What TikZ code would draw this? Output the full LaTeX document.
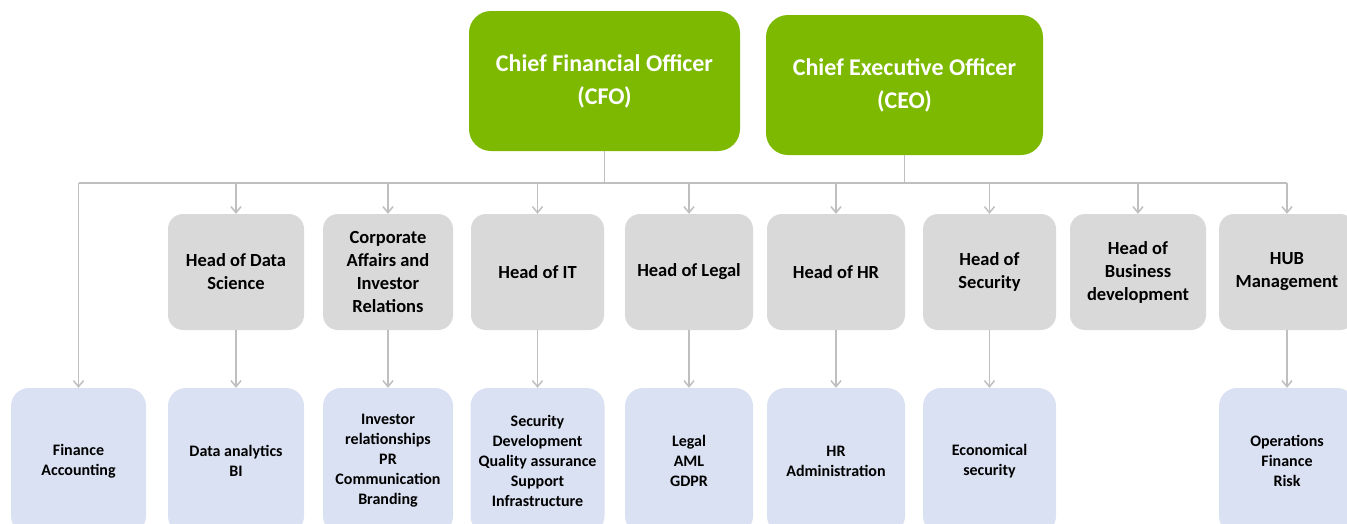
\documentclass[tikz,border=0pt]{standalone}
\usepackage{fontspec}
\setmainfont{Carlito}
\usetikzlibrary{arrows.meta}

\definecolor{chiefgreen}{RGB}{124,185,0}
\definecolor{headgray}{RGB}{217,217,217}
\definecolor{unitblue}{RGB}{218,225,242}
\definecolor{linegray}{RGB}{191,191,191}

\tikzset{
  chief/.style={fill=chiefgreen, rounded corners=22pt, minimum width=271pt, minimum height=140pt,
                inner sep=0pt, align=center, text=white, font=\fontsize{24}{33}\selectfont\bfseries},
  head/.style={fill=headgray, rounded corners=15pt, minimum height=116pt,
               inner sep=0pt, align=center, font=\fontsize{18.5}{23}\selectfont\bfseries},
  unit/.style={fill=unitblue, rounded corners=18pt, minimum height=146pt,
               inner sep=0pt, align=center, font=\fontsize{16}{20}\selectfont\bfseries},
  link/.style={draw=linegray, line width=1.6pt},
  arr/.style={-{Straight Barb[length=6pt,width=10pt,line width=1.5pt]}}
}

\begin{document}
\begin{tikzpicture}[x=1pt,y=-1pt]
  \clip (0,0) rectangle (1347,523);
  \fill[white] (0,0) rectangle (1347,523);
  % chiefs
  \node[chief] (cfo) at (604.5,81) {Chief Financial Officer\\(CFO)};
  \node[chief, minimum width=277pt] (ceo) at (904.5,85) {Chief Executive Officer\\(CEO)};
  % heads
  \node[head, minimum width=136pt] (ds)    at (236,272)  {Head of Data\\Science};
  \node[head, minimum width=130pt] (corp)  at (388,272)  {Corporate\\Affairs and\\Investor\\Relations};
  \node[head, minimum width=133pt] (it)    at (537.5,272) {Head of IT};
  \node[head, minimum width=128pt] (legal) at (689,272)  {Head of Legal};
  \node[head, minimum width=138pt] (hr)    at (836,272)  {Head of HR};
  \node[head, minimum width=133pt] (sec)   at (989.5,272) {Head of\\Security};
  \node[head, minimum width=136pt] (bd)    at (1138,272) {Head of\\Business\\development};
  \node[head, minimum width=136pt] (hub)   at (1287,272) {HUB\\Management};
  % units
  \node[unit, minimum width=135pt] (fin)   at (78.5,461) {Finance\\Accounting};
  \node[unit, minimum width=136pt] (dsu)   at (236,461)  {Data analytics\\BI};
  \node[unit, minimum width=130pt] (corpu) at (388,461)  {Investor\\relationships\\PR\\Communication\\Branding};
  \node[unit, minimum width=134pt] (itu)   at (537.5,461) {Security\\Development\\Quality assurance\\Support\\Infrastructure};
  \node[unit, minimum width=128pt] (legalu) at (689,461) {Legal\\AML\\GDPR};
  \node[unit, minimum width=138pt] (hru)   at (836,461)  {HR\\Administration};
  \node[unit, minimum width=133pt] (secu)  at (989.5,461) {Economical\\security};
  \node[unit, minimum width=136pt] (hubu)  at (1287,461) {Operations\\Finance\\Risk};
  % bus
  \coordinate (busl) at (78.5,183);
  \coordinate (busr) at (1287,183);
  \draw[link] (busl) -- (busr);
  \draw[link] (cfo) -- (cfo |- busl);
  \draw[link] (ceo) -- (ceo |- busl);
  \draw[link,arr] (busl) -- (fin);
  \foreach \h in {ds,corp,it,legal,hr,sec,bd,hub}
    \draw[link,arr] (\h |- busl) -- (\h);
  \foreach \h/\u in {ds/dsu,corp/corpu,it/itu,legal/legalu,hr/hru,sec/secu,hub/hubu}
    \draw[link,arr] (\h) -- (\u);
\end{tikzpicture}
\end{document}
